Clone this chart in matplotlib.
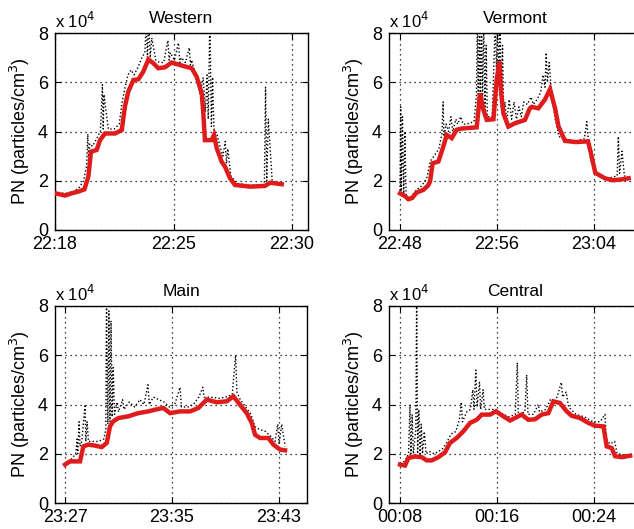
import matplotlib
matplotlib.use("Agg")
import matplotlib.pyplot as plt

plt.rcParams['font.family'] = ['Liberation Sans', 'DejaVu Sans']

# ---------------- data (x in minutes after first tick label, y in 1e4 particles/cm3)
titles = ["Western", "Vermont", "Main", "Central"]
tick_labels = [["22:18", "22:25", "22:30"],
               ["22:48", "22:56", "23:04"],
               ["23:27", "23:35", "23:43"],
               ["00:08", "00:16", "00:24"]]
tick_pos = [[0, 6, 12], [0, 8, 16], [0, 8, 16], [0, 8, 16]]
xlims = [(0, 12.81), (-0.91, 19.95), (-0.75, 18.09), (-0.91, 19.95)]

# Western
w_red_t = [0.0, 0.51, 0.84, 1.18, 1.49, 1.69, 1.82, 2.11, 2.28, 2.53, 3.04, 3.38, 3.54, 3.71,
           3.97, 4.22, 4.47, 4.73, 4.98, 5.23, 5.57, 5.91, 6.5, 6.92, 7.17, 7.43, 7.51, 7.59,
           7.93, 8.05, 8.19, 8.44, 8.61, 8.86, 9.11, 9.87, 10.63, 10.89, 11.48]
w_red_v = [1.49, 1.40, 1.49, 1.56, 1.65, 2.17, 3.18, 3.25, 3.65, 3.92, 3.92, 4.06, 5.01, 5.62,
           6.09, 6.12, 6.43, 6.93, 6.77, 6.57, 6.61, 6.80, 6.66, 6.57, 6.23, 5.55, 4.74, 3.65,
           3.65, 3.86, 3.32, 2.77, 2.57, 2.10, 1.83, 1.76, 1.79, 1.92, 1.86]
w_raw_t = [0.0, 0.5, 0.9, 1.2, 1.45, 1.6, 1.66, 1.70, 1.76, 1.9,
           2.1, 2.3, 2.40, 2.44, 2.48, 2.7, 3.0, 3.25, 3.4, 3.55,
           3.7, 3.85, 4.0, 4.2, 4.4, 4.55, 4.62, 4.68, 4.75, 4.82,
           4.9, 5.1, 5.3, 5.5, 5.72, 5.78, 5.84, 6.05, 6.25, 6.32,
           6.4, 6.6, 6.8, 6.86, 6.92, 7.05, 7.2, 7.35, 7.5, 7.62,
           7.7, 7.76, 7.84, 7.92, 7.98, 8.05, 8.2, 8.35, 8.5, 8.62,
           8.68, 8.75, 8.9, 9.2, 9.8, 10.4, 10.6, 10.66, 10.72, 10.8,
           11.0, 11.48]
w_raw_v = [1.55, 1.48, 1.55, 1.7, 2.0, 2.6, 3.9, 2.9, 3.5, 3.4,
           3.7, 4.0, 5.9, 4.1, 5.5, 4.1, 4.1, 4.3, 5.2, 5.8,
           6.3, 6.5, 6.3, 6.6, 7.0, 7.2, 8.5, 7.0, 8.5, 7.0,
           7.8, 6.9, 6.8, 6.8, 7.7, 6.9, 7.2, 6.9, 7.6, 6.8,
           7.0, 6.8, 7.4, 6.7, 6.9, 6.5, 6.0, 5.5, 6.2, 4.8,
           6.3, 4.5, 8.5, 4.2, 6.2, 4.0, 3.9, 3.4, 3.0, 3.6,
           2.7, 3.3, 2.2, 1.9, 1.82, 1.82, 1.85, 5.8, 2.0, 4.5,
           1.95, 1.92]

# Vermont
v_red_t = [0.0, 0.4, 0.69, 1.0, 1.37, 1.92, 2.3, 2.47, 2.69, 3.16, 3.57, 3.85, 4.26, 4.67,
           5.08, 5.8, 6.32, 6.6, 6.87, 7.15, 7.7, 7.97, 8.19, 8.35, 8.52, 8.93, 9.5, 10.3,
           10.7, 10.86, 11.4, 11.95, 12.37, 12.8, 13.07, 13.6, 14.5, 15.5, 15.7, 16.1, 16.9,
           17.5, 18.2, 18.85]
v_red_v = [1.49, 1.38, 1.25, 1.30, 1.52, 1.63, 1.80, 1.96, 2.71, 2.78, 3.39, 3.86, 3.73, 4.07,
           4.12, 4.15, 4.17, 5.55, 4.88, 4.47, 4.50, 6.10, 6.84, 5.50, 4.74, 4.20, 4.34, 4.47,
           4.94, 5.00, 4.94, 5.30, 5.72, 4.90, 4.20, 3.62, 3.57, 3.60, 3.20, 2.32, 2.10,
           2.02, 2.05, 2.10]
v_raw_t = [0.0, 0.05, 0.1, 0.2, 0.3, 0.4, 0.5, 0.9, 1.3, 1.8,
           2.2, 2.5, 2.8, 3.2, 3.45, 3.55, 3.62, 3.8, 4.0, 4.2,
           4.35, 4.6, 4.75, 5.0, 5.2, 5.5, 6.1, 6.3, 6.38, 6.45,
           6.55, 6.62, 6.72, 6.8, 6.9, 7.0, 7.1, 7.2, 7.6, 7.85,
           7.95, 8.05, 8.15, 8.25, 8.35, 8.45, 8.55, 8.65, 8.8, 9.0,
           9.2, 9.4, 9.6, 9.8, 10.0, 10.2, 10.5, 10.8, 11.0, 11.3,
           11.6, 11.8, 11.95, 12.05, 12.15, 12.3, 12.45, 12.6, 12.8, 13.1,
           13.5, 14.5, 15.2, 15.4, 15.5, 15.7, 15.9, 16.2, 16.6, 17.2,
           17.9, 18.0, 18.1, 18.3, 18.5, 18.85]
v_raw_v = [1.6, 5.0, 1.5, 4.6, 1.4, 4.0, 1.35, 1.35, 1.6, 1.8,
           2.1, 2.8, 3.0, 3.3, 3.9, 5.2, 3.8, 4.3, 4.0, 4.6,
           4.0, 4.5, 4.3, 4.6, 4.3, 4.3, 4.4, 5.5, 8.5, 5.0,
           8.5, 5.2, 8.5, 5.0, 8.5, 4.8, 7.5, 4.6, 4.6, 8.5,
           6.5, 8.5, 6.0, 8.5, 5.0, 7.5, 4.6, 5.2, 4.4, 5.3,
           4.5, 5.2, 4.5, 5.0, 4.6, 5.2, 5.1, 5.4, 5.1, 5.3,
           5.6, 6.3, 5.8, 7.2, 6.0, 6.8, 5.8, 5.2, 4.5, 3.8,
           3.7, 3.62, 3.7, 4.4, 3.8, 2.9, 2.6, 2.3, 2.2, 2.1,
           2.2, 3.8, 2.3, 3.2, 2.2, 2.15]

# Main
m_red_t = [0.0, 0.37, 1.12, 1.37, 1.74, 2.24, 2.74, 3.12, 3.36, 3.61, 3.99, 4.73, 5.48, 6.23,
           6.73, 7.35, 7.85, 8.6, 9.35, 9.97, 10.6, 11.34, 12.09, 12.59, 13.08, 13.58, 13.96,
           14.21, 14.58, 15.2, 15.58, 16.07, 16.45]
m_red_v = [1.56, 1.69, 1.69, 2.30, 2.37, 2.33, 2.27, 2.44, 3.11, 3.32, 3.45, 3.52, 3.65, 3.72,
           3.79, 3.86, 3.65, 3.72, 3.72, 3.86, 4.20, 4.09, 4.13, 4.33, 3.99, 3.65, 3.25,
           2.77, 2.64, 2.64, 2.37, 2.17, 2.14]
m_raw_t = [0.0, 0.5, 0.8, 0.9, 0.95, 1.05, 1.12, 1.25, 1.5, 1.55,
           1.65, 1.75, 2.0, 2.5, 2.9, 3.05, 3.1, 3.2, 3.28, 3.36,
           3.44, 3.52, 3.6, 3.7, 3.9, 4.0, 4.3, 4.4, 4.8, 5.2,
           5.6, 5.9, 6.2, 6.3, 6.6, 7.0, 7.4, 7.8, 8.2, 8.6,
           8.7, 9.2, 9.6, 10.0, 10.3, 10.4, 10.9, 11.5, 12.0, 12.5,
           12.75, 12.85, 13.1, 13.5, 13.9, 14.2, 14.5, 15.0, 15.4, 15.7,
           15.9, 16.0, 16.2, 16.45]
m_raw_v = [1.6, 1.8, 2.0, 2.6, 2.0, 3.3, 2.3, 2.5, 4.0, 2.5,
           3.3, 2.5, 2.5, 2.5, 2.6, 3.0, 8.3, 3.2, 7.8, 3.3,
           7.4, 3.5, 5.5, 3.6, 4.1, 3.7, 4.2, 3.8, 4.1, 3.9,
           4.2, 4.0, 4.8, 4.0, 4.3, 4.2, 4.1, 3.9, 4.0, 4.7,
           3.9, 3.9, 4.0, 4.3, 4.7, 4.3, 4.3, 4.25, 4.3, 4.4,
           6.0, 4.5, 4.2, 3.9, 3.6, 3.1, 3.0, 2.9, 2.7, 2.5,
           3.2, 2.4, 3.2, 2.3]

# Central
c_red_t = [0.0, 0.41, 0.69, 1.24, 1.79, 2.2, 2.61, 3.16, 3.71, 4.12, 4.67, 5.22, 5.77, 6.32,
           6.74, 7.42, 7.91, 8.52, 9.07, 10.03, 10.58, 11.13, 11.68, 12.23, 12.64, 13.19,
           13.74, 14.16, 14.84, 15.53, 16.08, 16.77, 17.04, 17.45, 17.73, 18.28, 18.97]
c_red_v = [1.56, 1.52, 1.83, 1.89, 1.86, 1.73, 1.73, 1.86, 2.06, 2.44, 2.64, 2.91, 3.25, 3.38,
           3.59, 3.59, 3.72, 3.52, 3.35, 3.59, 3.38, 3.40, 3.59, 3.65, 4.13, 4.06,
           3.72, 3.54, 3.45, 3.25, 3.14, 3.11, 2.30, 2.23, 1.90, 1.86, 1.92]
c_raw_t = [0.0, 0.4, 0.7, 0.82, 0.9, 1.0, 1.1, 1.3, 1.37, 1.45,
           1.55, 1.65, 1.75, 1.85, 2.0, 2.15, 2.4, 2.8, 3.2, 3.5,
           3.8, 4.2, 4.6, 4.9, 5.05, 5.15, 5.5, 5.8, 6.0, 6.1,
           6.25, 6.35, 6.55, 6.65, 6.85, 6.95, 7.5, 7.9, 8.5, 9.0,
           9.5, 9.67, 9.75, 10.3, 10.44, 10.55, 11.0, 11.4, 11.5, 12.0,
           12.4, 12.8, 13.0, 13.3, 13.4, 13.7, 13.9, 14.5, 15.2, 15.9,
           16.5, 16.9, 17.0, 17.3, 17.7, 17.9, 18.5, 18.97]
c_raw_v = [1.6, 1.7, 2.0, 4.0, 2.0, 3.6, 2.0, 3.0, 8.5, 2.0,
           3.8, 2.0, 3.2, 2.0, 2.9, 2.0, 2.1, 2.0, 2.1, 2.2,
           2.4, 2.8, 2.9, 3.4, 4.1, 3.3, 3.7, 3.8, 4.6, 3.8,
           5.4, 3.9, 4.9, 3.8, 4.6, 3.8, 3.8, 3.8, 3.6, 3.5,
           3.6, 5.7, 3.6, 3.7, 5.2, 3.6, 3.6, 4.0, 3.7, 3.8,
           4.2, 4.1, 4.4, 4.9, 4.3, 4.5, 3.9, 3.6, 3.5, 3.3,
           3.3, 3.6, 2.6, 2.4, 2.5, 2.0, 1.95, 1.95]

red_t = [w_red_t, v_red_t, m_red_t, c_red_t]
red_v = [w_red_v, v_red_v, m_red_v, c_red_v]
raw_t = [w_raw_t, v_raw_t, m_raw_t, c_raw_t]
raw_v = [w_raw_v, v_raw_v, m_raw_v, c_raw_v]
yticks = [0, 2, 4, 6, 8]

# ---------------- figure
W, H = 634, 529
fig = plt.figure(figsize=(W / 100, H / 100), dpi=100)
fig.patch.set_facecolor('white')

boxes_px = [(55, 33, 253, 197), (389, 33, 253, 197),
            (55, 306, 252, 197), (389, 306, 253, 197)]

for i in range(4):
    x0, y0, w, h = boxes_px[i]
    ax = fig.add_axes([x0 / W, (H - y0 - h) / H, w / W, h / H])
    ax.plot(raw_t[i], raw_v[i], color='black', lw=1.0, linestyle=(0, (1, 1.6)), zorder=2)
    ax.plot(red_t[i], red_v[i], color='#e01b1b', lw=3.2, solid_joinstyle='miter', zorder=3)
    ax.set_xlim(*xlims[i])
    ax.set_ylim(0, 8)
    ax.set_xticks(tick_pos[i])
    ax.set_xticklabels(tick_labels[i])
    ax.set_yticks(yticks)
    ax.set_yticklabels([str(v) for v in yticks])
    ax.grid(True, color='black', linestyle=(0, (1, 3)), linewidth=0.9)
    ax.set_axisbelow(True)
    ax.tick_params(direction='in', length=4, width=0.8, top=True, right=True,
                   labelsize=13, colors='black')
    ax.tick_params(axis='x', pad=4.5)
    ax.tick_params(axis='y', pad=5)
    for s in ax.spines.values():
        s.set_linewidth(1.0)
        s.set_color('black')
    ax.set_title(titles[i], fontsize=12.5, pad=7)
    ax.set_ylabel('PN (particles/cm$^3$)', fontsize=13, labelpad=4)
    ax.text(0.0, 1.012, 'x 10$^4$', transform=ax.transAxes, ha='left', va='bottom',
            fontsize=12)

fig.savefig('out.png', dpi=100)
